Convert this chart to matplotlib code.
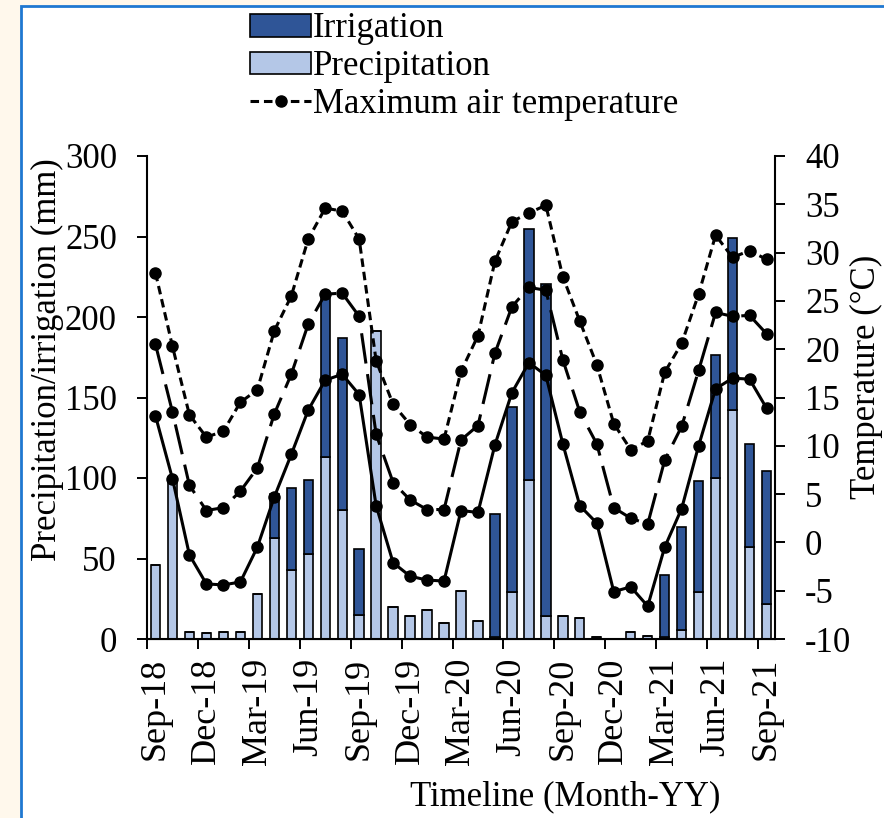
import numpy as np
import pandas as pd
import matplotlib
matplotlib.use("Agg")
import matplotlib.pyplot as plt
from matplotlib.patches import Rectangle
from matplotlib.lines import Line2D
from matplotlib.patches import Patch

# monthly series, Sep-2018 .. Sep-2021
months = pd.date_range("2018-09-01", periods=37, freq="MS").strftime("%b-%y")

precip = [46, 99, 4.4, 3.8, 4.2, 4.6, 28, 63, 43, 53, 113, 80, 15,
          191, 20, 14, 18, 10, 30, 11, 1, 29, 99, 14, 14,
          13, 1, 0, 4.4, 1.7, 1.5, 5.4, 29, 100, 142, 57, 22]
irrig = [0, 0, 0, 0, 0, 0, 0, 27, 51, 46, 99, 107, 41,
         0, 0, 0, 0, 0, 0, 0, 76.5, 115, 155.5, 206.5, 0,
         0, 0, 0, 0, 0, 38, 64, 69, 76.5, 107, 64, 82.5]

t_max = [27.9, 20.3, 13.2, 10.9, 11.5, 14.5, 15.8, 21.9, 25.5, 31.4, 34.6, 34.3, 31.4,
         18.8, 14.3, 12.2, 10.9, 10.7, 17.7, 21.4, 29.1, 33.2, 34.1, 34.9, 27.5,
         22.9, 18.4, 12.3, 9.6, 10.5, 17.6, 20.6, 25.7, 31.8, 29.5, 30.2, 29.3]
t_mean = [20.5, 13.5, 5.9, 3.3, 3.6, 5.3, 7.7, 13.3, 17.4, 22.6, 25.7, 25.8, 23.4,
          11.2, 6.2, 4.4, 3.4, 3.4, 10.6, 12.1, 19.6, 24.4, 26.4, 26.1, 18.9,
          13.5, 10.2, 3.6, 2.5, 1.9, 8.5, 12.0, 17.8, 23.8, 23.4, 23.5, 21.6]
t_min = [13.1, 6.6, -1.3, -4.3, -4.4, -4.1, -0.5, 4.7, 9.1, 13.7, 16.8, 17.4, 15.3,
         3.8, -2.1, -3.5, -3.9, -4.0, 3.3, 3.1, 10.1, 15.5, 18.6, 17.3, 10.2,
         3.8, 2.0, -5.1, -4.6, -6.6, -0.5, 3.5, 10.0, 15.9, 17.0, 16.9, 13.9]

dark_blue = "#2F5597"
light_blue = "#B4C7E7"

plt.rcParams["font.family"] = ["Liberation Serif", "DejaVu Serif"]
plt.rcParams["font.size"] = 25
plt.rcParams["axes.unicode_minus"] = False

LW = 2.2
MS = 8
short_dash = (2.8, 1.6)
long_dash = (10, 3.5)

fig = plt.figure(figsize=(8.84, 8.18), dpi=100, facecolor="#FFF8EC")
# white panel with blue frame behind everything
fig.patches.append(Rectangle((20.5 / 884, -0.01), 1.0, 1.01 - 6 / 818, transform=fig.transFigure,
                             facecolor="white", edgecolor="#1F78D1", linewidth=2, zorder=-10))

ax = fig.add_axes([147 / 884, 1 - 639 / 818, (775 - 147) / 884, (639 - 156) / 818])
ax.patch.set_alpha(0)
x = np.arange(len(months))

ax.bar(x, precip, width=0.55, color=light_blue, edgecolor="black", linewidth=1.2)
ax.bar(x, irrig, width=0.55, bottom=precip, color=dark_blue, edgecolor="black", linewidth=1.2)

ax.set_xlim(-0.5, len(months) - 0.5)
ax.set_ylim(0, 300)
ax.set_yticks(np.arange(0, 301, 50))

# tick marks on category boundaries, labels centred on every third month
ax.set_xticks(np.arange(-0.5, len(months), 3))
ax.set_xticklabels([])
ax.set_xticks(np.arange(0, len(months), 3), minor=True)
ax.set_xticklabels(months[::3], minor=True, rotation=90, fontsize=26)
ax.tick_params(axis="x", which="major", length=7.2, width=1.4)
ax.tick_params(axis="x", which="minor", length=0, pad=13.5)
ax.tick_params(axis="y", length=7.2, width=1.4, pad=14.4)
for s in ["top", "right"]:
    ax.spines[s].set_visible(False)
ax.spines["left"].set_linewidth(1.5)
ax.spines["bottom"].set_linewidth(1.5)

ax2 = ax.twinx()
ax2.plot(x, t_max, color="black", lw=LW, dashes=short_dash, marker="o", ms=MS)
ax2.plot(x, t_mean, color="black", lw=LW, dashes=long_dash, marker="o", ms=MS)
ax2.plot(x, t_min, color="black", lw=LW, marker="o", ms=MS)
ax2.set_ylim(-10, 40)
ax2.set_yticks(np.arange(-10, 41, 5))
ax2.tick_params(axis="y", length=7.2, width=1.4, pad=14.4)
ax2.spines["top"].set_visible(False)
ax2.spines["right"].set_linewidth(1.5)
ax2.spines["left"].set_visible(False)

fig.text(47 / 884, 1 - 360 / 818, "Precipitation/irrigation (mm)", rotation=90, ha="center", va="center")
fig.text(866 / 884, 1 - 377 / 818, "Temperature (°C)", rotation=90, ha="center", va="center")
fig.text(565 / 884, 1 - 797 / 818, "Timeline (Month-YY)", ha="center", va="center")

handles = [Patch(facecolor=dark_blue, edgecolor="black", linewidth=1.2),
           Patch(facecolor=light_blue, edgecolor="black", linewidth=1.2),
           Line2D([], [], color="black", lw=LW, dashes=short_dash, marker="o", ms=MS)]
fig.legend(handles, ["Irrigation", "Precipitation", "Maximum air temperature"],
           loc="upper left", bbox_to_anchor=(247 / 884, 1 - 9 / 818), frameon=False,
           handlelength=1.75, handleheight=0.62, handletextpad=0.05, labelspacing=0.14,
           borderaxespad=0, borderpad=0.1)

fig.savefig("out.png", dpi=100, facecolor=fig.get_facecolor())
